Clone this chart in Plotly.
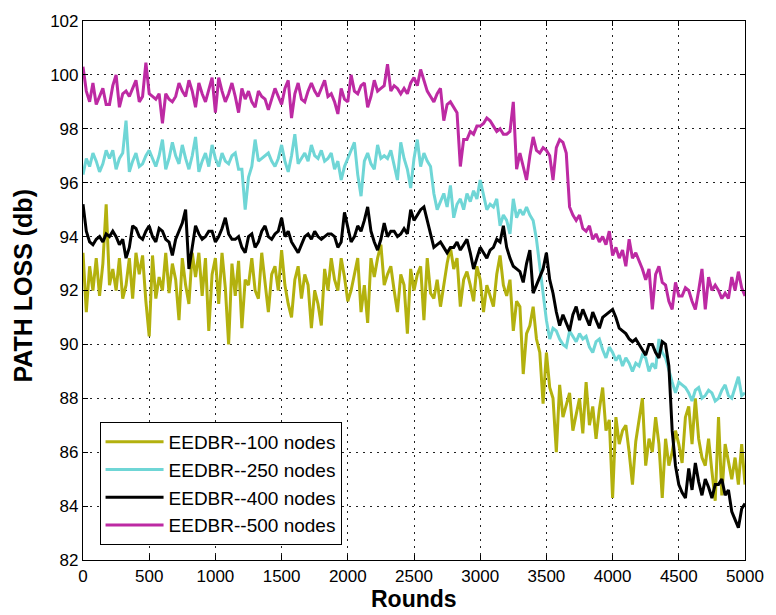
import plotly.graph_objects as go

# Simulation rounds (sampled every 25 rounds)
rounds = list(range(0, 5001, 25))

# Path loss (dB) per round for each network size
loss_100 = [
    93.4, 91.2, 92.9, 92.0, 93.2, 91.8, 93.0, 95.2,
    92.2, 92.8, 92.0, 93.2, 91.7, 92.2, 93.2, 91.7,
    93.4, 92.6, 93.3, 91.6, 90.3, 93.3, 91.7, 92.5,
    92.0, 93.4, 91.9, 93.0, 92.4, 90.9, 93.2, 92.2,
    91.5, 93.4, 92.5, 93.4, 91.8, 93.2, 90.5, 92.6,
    93.2, 91.5, 93.4, 92.1, 90.0, 93.0, 91.8, 93.1,
    90.6, 92.4, 92.2, 93.2, 92.0, 91.7, 93.4, 92.4,
    91.2, 92.6, 92.9, 92.0, 93.5, 92.2, 91.5, 91.0,
    92.4, 92.9, 91.7, 92.6, 92.2, 90.6, 92.0, 91.5,
    90.7, 92.8, 92.0, 93.2, 92.4, 92.0, 93.2, 92.5,
    91.6, 92.0, 92.6, 93.2, 91.2, 92.2, 90.8, 93.2,
    92.5, 93.2, 93.7, 92.2, 92.6, 92.9, 92.0, 91.2,
    92.6, 92.2, 90.4, 92.8, 92.0, 92.6, 92.9, 90.9,
    93.2, 91.9, 91.7, 92.4, 91.4, 92.2, 93.0, 93.6,
    92.8, 93.2, 91.4, 92.4, 92.7, 92.2, 91.6, 92.9,
    92.4, 91.2, 92.2, 91.8, 91.4, 92.6, 93.3, 92.2,
    91.8, 92.4, 90.5, 91.6, 91.4, 88.9, 90.4, 90.7,
    91.4, 90.2, 89.7, 87.8, 89.7, 88.4, 88.0, 86.0,
    88.5, 87.3, 87.8, 88.2, 86.8, 87.4, 88.0, 86.7,
    88.6, 87.0, 87.7, 86.5, 87.6, 88.4, 86.8, 87.2,
    84.3, 87.3, 86.3, 86.8, 87.0, 86.0, 84.8, 86.4,
    87.3, 88.0, 85.5, 86.5, 86.0, 87.3, 86.3, 84.3,
    86.5, 85.5, 86.0, 86.8, 86.3, 85.6, 87.3, 87.7,
    86.3, 88.0, 86.5, 85.8, 85.5, 86.5, 85.3, 84.2,
    87.3, 84.4, 86.3, 85.6, 85.0, 85.8, 84.8, 86.3,
    84.8,
]

loss_250 = [
    96.3, 96.9, 96.6, 97.1, 96.8, 96.4, 96.7, 97.2,
    96.9, 97.2, 96.5, 96.9, 97.1, 98.3, 96.4, 96.8,
    97.1, 96.6, 96.7, 97.0, 97.2, 96.9, 96.6, 97.0,
    97.6, 96.5, 96.9, 97.5, 97.0, 96.7, 97.4, 96.9,
    96.5, 97.0, 97.7, 96.4, 96.8, 97.1, 96.6, 97.4,
    96.9, 96.6, 97.1, 96.8, 96.7, 97.0, 97.1, 96.5,
    96.5, 95.0, 96.2, 96.6, 97.6, 96.8, 96.9, 97.0,
    97.1, 96.8, 96.6, 96.9, 97.4, 96.8, 96.4, 97.0,
    97.8, 96.7, 96.9, 97.1, 96.8, 97.4, 97.0, 96.9,
    97.2, 96.8, 96.9, 97.1, 96.5, 96.8, 96.1, 96.6,
    96.9, 97.2, 97.5, 96.3, 95.5, 96.8, 97.1, 96.7,
    96.5, 97.4, 96.9, 97.0, 96.9, 97.2, 96.6, 96.1,
    97.5, 96.9, 96.5, 95.8, 96.9, 97.6, 96.6, 97.1,
    96.8, 96.6, 95.6, 95.0, 95.3, 95.6, 95.1, 95.9,
    94.7, 95.2, 95.4, 95.0, 95.6, 95.3, 95.7, 95.4,
    96.1, 95.5, 95.0, 95.2, 95.1, 95.4, 94.4, 94.8,
    94.6, 94.1, 95.4, 94.7, 95.0, 94.8, 95.1, 94.8,
    94.6, 93.9, 92.9, 91.7, 90.9, 90.2, 90.6, 90.5,
    90.2, 90.0, 89.9, 90.5, 90.3, 90.1, 90.4, 90.2,
    90.3, 89.9, 89.7, 90.1, 90.2, 89.8, 89.5, 89.9,
    89.7, 89.4, 89.6, 89.2, 89.5, 89.3, 89.0, 89.3,
    89.2, 89.6, 89.5, 89.0, 89.3, 89.1, 90.2, 89.7,
    89.5, 89.0, 88.6, 88.2, 88.6, 88.5, 88.4, 88.2,
    87.9, 88.3, 88.4, 88.0, 88.1, 88.3, 88.2, 87.9,
    88.0, 88.3, 88.5, 88.1, 88.0, 88.4, 88.8, 88.1,
    88.2,
]

loss_400 = [
    95.2, 94.2, 93.8, 93.7, 93.9, 94.0, 93.8, 94.1,
    94.0, 94.2, 94.0, 93.7, 93.9, 93.2, 93.6, 94.4,
    94.3, 94.0, 93.9, 94.2, 94.4, 94.0, 93.8, 94.3,
    94.2, 93.9, 93.8, 93.3, 93.9, 94.2, 94.5, 95.0,
    92.8, 93.6, 94.4, 94.1, 93.9, 94.0, 94.2, 94.2,
    93.8, 94.0, 94.3, 94.7, 94.1, 93.9, 93.9, 94.0,
    93.6, 93.4, 94.0, 94.1, 93.6, 93.8, 94.2, 94.4,
    94.0, 93.9, 94.1, 94.2, 94.7, 94.0, 94.2, 93.8,
    93.6, 93.4, 93.7, 94.0, 94.1, 93.9, 94.2, 94.0,
    93.9, 94.0, 94.1, 94.1, 94.0, 93.6, 93.8, 94.9,
    94.3, 93.8, 94.0, 94.4, 94.2, 94.6, 95.1, 94.2,
    93.8, 93.5, 93.9, 94.5, 94.0, 94.2, 94.2, 94.0,
    94.1, 94.3, 94.1, 95.0, 94.6, 94.8, 95.0, 95.1,
    94.6, 94.1, 93.6, 93.7, 93.8, 93.6, 93.4, 93.6,
    93.6, 93.8, 93.5, 93.7, 93.9, 93.4, 92.8, 93.2,
    93.6, 93.4, 93.2, 93.5, 93.6, 93.9, 93.8, 94.4,
    93.6, 93.2, 92.9, 92.8, 92.7, 92.3, 93.0, 93.5,
    91.9, 92.2, 92.5, 92.8, 93.4, 92.4, 91.9, 91.2,
    90.7, 91.1, 90.8, 90.5, 91.1, 91.4, 90.9, 91.3,
    91.0, 90.7, 91.2, 90.9, 90.6, 91.0, 91.1, 91.2,
    91.3, 91.0, 90.6, 90.5, 90.4, 90.2, 90.1, 90.2,
    90.0, 89.8, 89.6, 90.0, 90.0, 89.7, 89.5, 90.1,
    90.0, 89.2, 86.8, 85.5, 84.8, 84.5, 84.3, 85.4,
    84.6, 85.6, 84.9, 84.4, 85.0, 84.7, 84.3, 84.8,
    84.8, 85.0, 84.4, 84.6, 83.8, 83.5, 83.2, 83.9,
    84.1,
]

loss_500 = [
    100.3, 99.4, 99.0, 99.7, 98.9, 99.2, 99.5, 98.9,
    98.9, 99.6, 100.0, 98.8, 99.3, 99.4, 99.2, 99.5,
    99.8, 99.0, 99.2, 100.45, 99.3, 99.2, 99.1, 99.3,
    98.2, 99.3, 99.1, 99.0, 99.2, 99.7, 99.4, 99.2,
    99.8, 99.4, 98.8, 99.7, 99.3, 99.0, 99.5, 99.9,
    98.6, 99.9, 99.4, 99.0, 99.3, 99.7, 99.2, 98.6,
    99.5, 99.1, 99.4, 99.0, 98.8, 99.4, 99.2, 99.1,
    98.7, 99.1, 99.5, 99.2, 98.9, 99.5, 99.8, 98.4,
    99.3, 99.7, 99.1, 99.0, 99.4, 99.7, 99.4, 99.2,
    99.5, 99.8, 99.2, 99.3, 99.0, 98.55, 99.5, 99.1,
    99.0, 100.0, 99.4, 99.3, 99.6, 99.7, 98.8, 99.2,
    99.8, 99.4, 99.5, 99.6, 100.4, 99.4, 99.6, 99.5,
    99.3, 99.5, 99.3, 99.7, 99.9, 99.6, 100.2, 99.8,
    99.4, 99.2, 99.0, 99.3, 99.5, 98.3, 98.9, 99.0,
    98.8, 98.6, 96.6, 97.6, 97.6, 97.9, 97.8, 98.1,
    98.1, 98.2, 98.4, 98.3, 98.1, 97.9, 98.0, 97.8,
    97.8, 97.9, 99.0, 96.5, 97.1, 96.6, 96.1, 97.0,
    97.7, 97.2, 97.1, 97.3, 97.2, 97.0, 96.1, 97.3,
    97.6, 97.5, 97.1, 95.1, 94.8, 94.6, 94.8, 94.3,
    94.2, 94.4, 93.9, 94.1, 93.8, 94.0, 93.7, 94.2,
    93.3, 93.6, 93.2, 93.5, 92.9, 93.9, 93.2, 93.4,
    93.1, 92.8, 92.4, 92.8, 91.3, 92.6, 92.9, 92.3,
    92.2, 91.6, 91.3, 92.3, 91.8, 91.8, 92.1, 92.0,
    91.6, 91.3, 92.0, 92.8, 91.3, 92.5, 92.0, 92.2,
    92.0, 91.7, 91.9, 91.7, 92.5, 92.0, 92.7, 92.1,
    91.8,
]

series_names = ["EEDBR--100 nodes", "EEDBR--250 nodes",
                "EEDBR--400 nodes", "EEDBR--500 nodes"]
series_colors = ["#b3b10e", "#6fd6d6", "#000000", "#bd2aa3"]
series_values = [loss_100, loss_250, loss_400, loss_500]

x_ticks = [0, 500, 1000, 1500, 2000, 2500, 3000, 3500, 4000, 4500, 5000]
y_ticks = [82, 84, 86, 88, 90, 92, 94, 96, 98, 100, 102]

fig = go.Figure()
for name, color, values in zip(series_names, series_colors, series_values):
    fig.add_trace(go.Scatter(
        x=rounds, y=values, mode="lines", name=name,
        line=dict(color=color, width=3),
    ))

axis_common = dict(
    showline=True, linecolor="black", linewidth=1.2, mirror="ticks",
    ticks="inside", ticklen=5, tickcolor="black",
    showgrid=True, gridcolor="#222222", gridwidth=1, griddash="2px,5px",
    zeroline=False,
    tickfont=dict(family="Liberation Sans, Arial, sans-serif", size=17, color="black"),
)

fig.update_xaxes(range=[0, 5000], tickvals=x_ticks, **axis_common)
fig.update_yaxes(range=[82, 102], tickvals=y_ticks, **axis_common)

fig.update_layout(
    width=776, height=615,
    margin=dict(l=83, r=19, t=18, b=55),
    paper_bgcolor="white", plot_bgcolor="white",
    showlegend=True,
    legend=dict(
        x=0.025, y=0.256, xanchor="left", yanchor="top",
        bgcolor="white", bordercolor="black", borderwidth=1,
        font=dict(family="Liberation Sans, Arial, sans-serif", size=19, color="black"),
        itemwidth=58, tracegroupgap=0,
    ),
    annotations=[
        dict(text="<b>PATH LOSS (db)</b>", xref="paper", yref="paper",
             x=-0.09, y=0.51, xanchor="center", yanchor="middle",
             textangle=-90, showarrow=False,
             font=dict(family="Liberation Sans, Arial, sans-serif", size=25, color="black")),
        dict(text="<b>Rounds</b>", xref="paper", yref="paper",
             x=0.5, y=-0.1, xanchor="center", yanchor="bottom",
             showarrow=False,
             font=dict(family="Liberation Sans, Arial, sans-serif", size=23, color="black")),
    ],
)

fig.write_html("out.html")
